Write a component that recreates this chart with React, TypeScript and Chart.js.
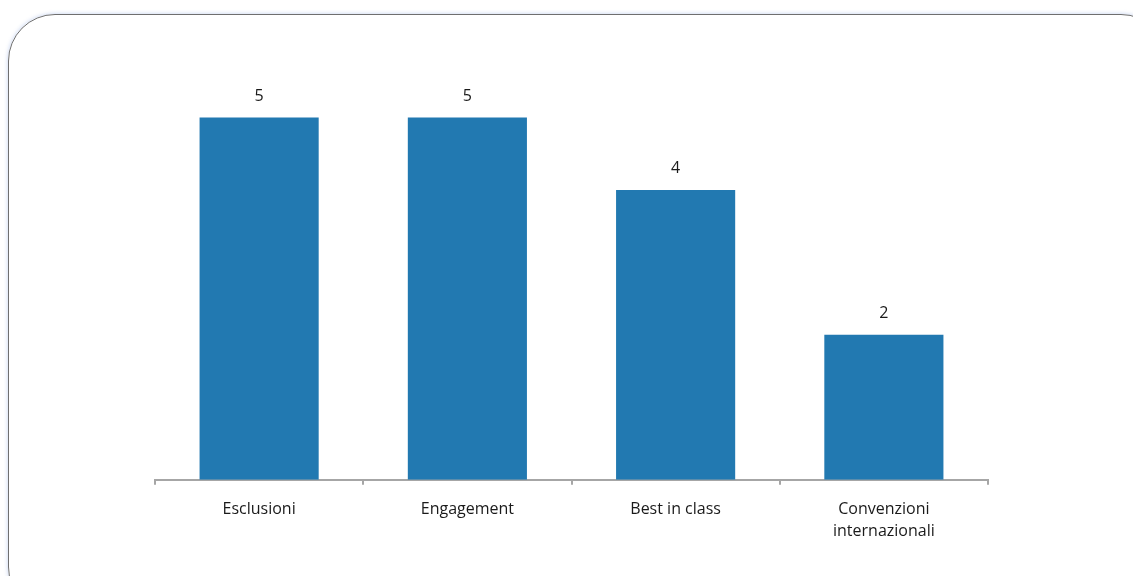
import React, { useEffect, useRef } from "react";
import { Chart, registerables } from "chart.js";

Chart.register(...registerables);

const categories: (string | string[])[] = [
  "Esclusioni",
  "Engagement",
  "Best in class",
  ["Convenzioni", "internazionali"],
];
const values: number[] = [5, 5, 4, 2];

const FONT = "'Open Sans', 'Noto Sans', sans-serif";

const valueLabels = {
  id: "valueLabels",
  afterDatasetsDraw(chart: any) {
    const ctx = chart.ctx;
    const meta = chart.getDatasetMeta(0);
    ctx.save();
    ctx.font = `16px ${FONT}`;
    ctx.fillStyle = "#1a1a1a";
    ctx.textAlign = "center";
    ctx.textBaseline = "middle";
    meta.data.forEach((bar: any, i: number) => {
      ctx.fillText(String(values[i]), bar.x, bar.y - 21);
    });
    ctx.restore();
  },
};

export default function App() {
  const ref = useRef<HTMLCanvasElement>(null);
  useEffect(() => {
    const chart = new Chart(ref.current!, {
      type: "bar",
      data: {
        labels: categories,
        datasets: [
          {
            data: values,
            backgroundColor: "#2279B1",
            categoryPercentage: 1,
            barPercentage: 0.572,
          },
        ],
      },
      options: {
        animation: false,
        responsive: false,
        maintainAspectRatio: false,
        layout: { padding: { left: 155, right: 145, top: 45, bottom: 20 } },
        plugins: { legend: { display: false }, tooltip: { enabled: false } },
        scales: {
          x: {
            grid: {
              offset: true,
              drawOnChartArea: false,
              drawTicks: true,
              tickLength: 5,
              color: "#A6A6A6",
              lineWidth: 2,
            },
            border: { color: "#A6A6A6", width: 2 },
            ticks: {
              color: "#1a1a1a",
              font: { family: FONT, size: 16, lineHeight: 1.35 },
              padding: 14,
              maxRotation: 0,
            },
          },
          y: {
            display: false,
            min: 0,
            max: 6,
          },
        },
      },
      plugins: [valueLabels],
    });
    return () => chart.destroy();
  }, []);
  return (
    <div style={{ position: "fixed", inset: 0, overflow: "hidden", background: "#fff" }}>
      <div
        style={{
          position: "absolute",
          left: 8,
          top: 14,
          width: 1160,
          height: 600,
          border: "1px solid #6f6f6f",
          borderRadius: 47,
          boxShadow: "0 0 4px rgba(120,150,220,0.45)",
          boxSizing: "border-box",
        }}
      />
      <canvas
        ref={ref}
        width={1133}
        height={576}
        style={{ position: "absolute", left: 0, top: 0, width: 1133, height: 576 }}
      />
    </div>
  );
}
